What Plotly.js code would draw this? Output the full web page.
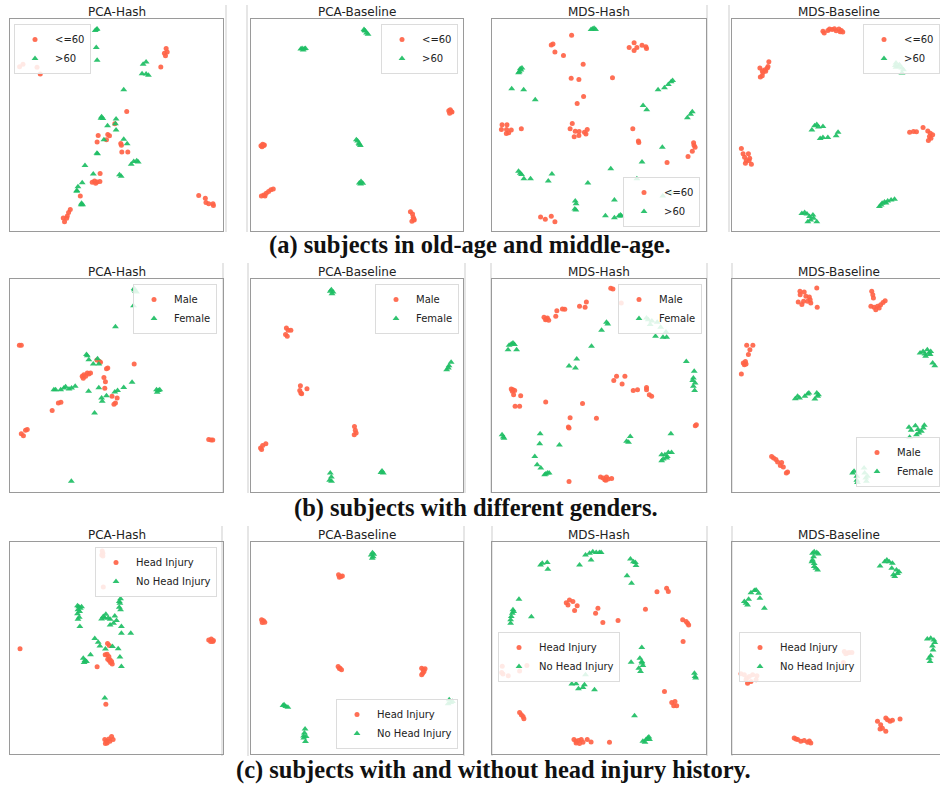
<!DOCTYPE html>
<html><head><meta charset="utf-8">
<script src="https://cdn.plot.ly/plotly-3.0.1.min.js"></script>
<style>html,body{margin:0;padding:0;background:#fff;overflow:hidden}#chart{width:940px;height:788px}</style>
</head><body><div id="chart"></div>
<script>
// ---- labels ----
const panelTitles = ['PCA-Hash','PCA-Baseline','MDS-Hash','MDS-Baseline'];
const labelsA = ['<=60','>60'];
const labelsB = ['Male','Female'];
const labelsC = ['Head Injury','No Head Injury'];
const captions = ['(a) subjects in old-age and middle-age.','(b) subjects with different genders.','(c) subjects with and without head injury history.'];

// ---- (a) PCA-Hash ----
const a1_red_x=[4.5,6.1,12.7,14.2,73.3,73.8,72.5,73.0,70.8,54.8,49.2,41.4,45.9,46.7,45.3,40.9,52.0,52.3,52.5,55.3,42.3,38.6,39.7,40.9,42.2,40.2,33.0,28.3,27.5,26.9,26.6,25.0,25.6,88.6,91.7,92.0,93.3,95.3,95.5];
const a1_red_y=[77.5,78.6,77.2,74.0,86.1,84.4,83.9,82.7,77.3,56.4,50.6,45.0,45.5,44.9,43.0,42.0,41.3,40.5,37.3,37.3,27.1,23.0,23.6,23.1,23.3,22.5,16.5,10.2,8.7,7.1,6.0,6.1,4.4,16.7,15.4,13.5,12.8,12.8,12.0];
const a1_grn_x=[40.6,40.9,40.0,40.5,40.9,62.5,63.9,62.0,63.9,65.0,53.4,43.0,43.6,42.7,49.8,45.8,49.5,49.8,44.1,53.4,55.0,41.1,40.8,56.9,58.1,59.5,60.2,35.2,39.1,51.4,52.2,33.9,31.9,31.4,31.3,33.6,34.1,33.4];
const a1_grn_y=[95.0,95.3,94.6,86.6,80.6,78.7,79.7,74.2,74.0,73.5,66.6,53.9,53.1,53.2,52.8,49.6,50.6,47.7,43.0,43.3,41.1,36.4,36.7,31.5,32.8,33.1,32.6,30.9,26.9,26.5,25.8,22.8,20.9,19.1,18.7,13.1,12.4,12.4];
// ---- (a) PCA-Baseline ----
const a2_red_x=[93.3,94.0,94.8,93.7,94.4,4.7,5.5,6.3,5.2,6.0,4.9,6.0,7.2,8.3,9.4,10.5,6.6,75.2,76.2,76.5,77.0,75.9,76.8];
const a2_red_y=[56.7,57.2,56.1,55.6,56.4,40.2,40.9,40.6,39.7,40.3,16.5,17.0,17.8,18.6,19.4,19.8,16.5,9.1,8.0,6.5,5.2,4.6,5.7];
const a2_grn_x=[23.5,24.1,25.1,25.7,24.6,53.3,53.9,54.5,55.2,53.6,49.7,50.3,50.9,51.6,51.1,51.1,51.9,52.7,51.7];
const a2_grn_y=[85.8,86.1,86.0,86.1,85.4,95.1,94.3,93.4,92.8,94.6,43.0,42.4,41.4,40.3,40.9,22.7,23.3,22.5,22.2];
// ---- (a) MDS-Hash ----
const a3_red_x=[37.2,27.7,28.5,29.4,33.4,42.6,37.0,40.6,56.3,64.1,66.4,66.4,67.7,70.1,71.9,72.2,42.8,39.8,4.7,7.0,4.4,6.8,9.0,7.8,6.7,13.7,37.5,36.5,38.9,40.7,43.2,44.5,38.4,40.6,43.9,65.8,68.4,68.6,81.8,94.2,94.9,93.6,91.6,94.4,22.7,24.9,27.7,29.4];
const a3_red_y=[92.3,87.7,88.2,84.4,82.8,78.7,72.1,71.5,72.3,86.6,88.8,85.2,86.6,87.6,86.9,86.1,63.5,60.2,50.1,50.1,47.9,47.9,47.7,46.3,46.0,48.2,50.7,48.2,47.1,46.9,46.6,47.9,44.4,45.0,45.8,48.2,42.4,41.7,32.3,41.6,39.5,37.6,35.1,40.5,6.6,5.5,6.9,4.4];
const a3_grn_x=[47.0,47.7,48.4,46.3,13.2,14.0,12.8,13.5,12.4,9.2,14.8,20.2,84.4,83.7,82.4,80.6,77.6,70.6,72.3,93.6,92.8,91.3,79.6,70.1,55.5,67.7,12.4,13.2,13.8,14.9,18.0,28.0,26.3,44.8,79.8,83.7,38.9,39.3,38.7,39.2,57.2,53.0,57.2,59.3,60.0,60.5];
const a3_grn_y=[95.3,95.6,95.0,95.0,76.5,76.9,75.1,75.9,74.6,67.1,66.6,61.9,71.0,70.4,69.1,67.6,66.6,59.2,57.2,56.2,55.1,53.4,39.5,32.6,29.4,24.7,28.2,27.2,26.6,24.7,24.6,26.9,23.6,22.7,16.5,18.0,14.2,12.9,10.4,9.9,14.6,7.2,6.3,7.1,7.6,7.1];
// ---- (a) MDS-Baseline ----
const a4_red_x=[42.7,43.3,45.0,45.8,47.0,48.1,48.9,50.2,51.3,52.0,50.8,13.1,14.2,15.5,16.6,17.3,16.9,14.5,13.3,14.2,15.8,83.4,85.2,86.6,89.7,91.9,93.1,94.2,92.7,92.2,93.4,4.4,5.2,5.9,6.7,7.7,8.3,9.1,6.3,8.0];
const a4_red_y=[94.2,93.4,94.6,95.3,95.0,95.4,94.5,95.3,94.6,93.9,94.0,76.9,75.6,76.1,76.9,79.8,77.6,74.8,72.6,73.2,75.3,46.6,46.9,46.8,48.8,47.2,46.1,45.4,44.6,42.7,43.8,38.9,36.4,34.8,33.2,36.4,34.3,31.5,32.0,33.1];
const a4_grn_x=[77.0,76.7,78.1,79.7,80.5,79.8,77.0,78.6,37.5,38.8,39.8,40.6,42.7,41.4,42.7,45.0,48.9,49.8,69.2,70.5,71.6,73.1,74.7,76.3,72.3,70.0,32.8,34.1,35.2,36.4,38.0,36.9,35.6,39.8,38.3];
const a4_grn_y=[79.2,78.1,77.6,76.9,76.1,74.5,77.2,78.4,47.7,49.6,50.2,49.0,49.3,43.6,44.1,44.1,44.9,46.6,11.5,13.1,13.7,14.2,14.6,15.0,13.2,12.3,8.3,8.7,8.0,6.8,7.6,5.2,4.4,4.4,6.0];
// ---- (b) PCA-Hash ----
const b1_red_x=[4.4,5.3,40.8,42.0,42.5,58.3,45.3,45.9,33.9,34.7,36.3,37.0,37.8,34.4,35.5,44.1,44.8,44.5,47.9,50.3,49.5,48.8,22.7,23.9,19.8,5.3,6.3,7.3,8.1,93.3,94.4,95.2];
const b1_red_y=[68.9,68.9,62.0,61.3,60.9,60.1,57.9,58.2,54.3,55.1,55.9,55.4,55.9,53.4,54.3,53.7,51.8,48.7,44.9,44.1,41.8,41.2,41.8,42.1,38.3,27.4,26.4,29.0,29.3,24.6,24.4,24.4];
const b1_grn_x=[58.4,58.9,59.4,58.3,58.0,49.5,35.9,36.3,37.0,41.1,39.1,41.7,20.6,21.4,23.8,25.3,26.1,27.7,28.9,30.6,36.9,41.7,43.0,43.3,45.3,49.2,50.5,53.4,57.3,39.7,68.8,69.7,70.3,69.1,28.8];
const b1_grn_y=[95.0,94.2,93.9,95.5,87.5,77.6,64.5,64.0,62.1,62.6,60.1,60.1,48.0,48.0,48.0,48.8,49.4,48.4,48.8,49.6,47.3,49.0,44.1,42.6,45.2,46.9,47.6,49.1,51.5,37.1,48.0,47.6,48.0,46.8,5.0];
// ---- (b) PCA-Baseline ----
const b2_red_x=[16.7,17.5,18.8,16.3,17.1,23.3,23.0,23.9,26.4,23.5,48.8,49.2,48.7,49.6,4.5,5.5,7.0,5.0];
const b2_red_y=[77.0,75.9,75.9,73.9,73.1,49.9,47.7,46.1,48.5,46.5,30.8,29.0,26.9,27.7,20.7,21.8,22.7,19.9];
const b2_grn_x=[37.9,38.7,37.4,38.2,94.4,93.4,92.3,93.1,37.4,37.9,37.1,38.0,61.8,62.4,61.3];
const b2_grn_y=[95.0,93.9,94.2,93.1,60.9,59.3,57.4,58.2,8.9,7.0,5.5,5.0,9.9,8.9,9.2];
// ---- (b) MDS-Hash ----
const b3_red_x=[55.5,56.5,60.4,40.9,43.5,44.1,32.9,34.0,30.3,29.8,24.3,25.4,26.5,25.9,25.0,58.2,62.1,56.9,60.8,66.0,68.0,72.2,72.2,73.5,74.6,9.0,9.8,10.6,9.5,10.1,13.4,10.8,12.9,25.1,42.3,36.5,48.8,35.7,36.0,95.0,95.5,50.7,51.9,52.7,53.5,54.3,53.2,55.9,36.0];
const b3_red_y=[95.6,95.3,88.7,87.2,86.7,89.2,85.9,85.8,85.1,82.5,82.0,81.2,80.6,81.7,80.9,54.3,54.3,52.3,50.7,47.7,48.0,49.1,48.0,45.7,44.9,48.4,48.0,47.6,47.3,45.7,45.2,40.2,40.2,42.3,41.5,34.9,34.6,30.5,30.0,31.1,31.6,7.0,6.6,5.8,7.0,6.1,5.5,6.3,4.9];
const b3_grn_x=[53.5,54.1,51.2,46.5,72.2,73.0,74.7,77.2,73.9,78.8,81.3,76.4,79.9,81.6,9.8,9.0,8.0,10.5,7.5,11.5,39.6,36.0,39.0,90.8,94.5,94.1,93.8,94.9,94.1,94.7,4.7,5.3,5.6,22.5,22.3,20.0,21.1,22.8,25.1,25.9,26.7,24.6,31.5,64.6,62.9,63.8,83.6,79.3,80.8,82.4,83.9,80.0,79.3,81.6,81.9];
const b3_grn_y=[79.7,78.9,75.9,68.4,81.7,80.9,80.3,79.7,78.6,77.3,75.1,73.1,72.6,72.6,70.0,69.5,68.9,69.2,66.8,66.8,62.4,59.2,58.2,61.3,56.7,53.5,52.4,51.2,49.6,47.7,26.9,25.8,25.2,27.4,22.7,16.7,12.8,11.3,8.5,8.9,8.9,8.1,22.1,26.1,23.8,23.3,27.4,17.5,17.5,18.6,18.6,15.5,14.7,16.0,16.7];
// ---- (b) MDS-Baseline ----
const b4_red_x=[31.9,33.9,32.0,34.7,36.3,31.1,32.8,36.7,35.5,37.0,39.8,40.0,33.6,65.6,66.1,66.4,65.2,66.7,68.3,69.8,70.9,71.9,67.5,69.1,6.9,9.8,8.4,7.7,6.3,5.3,5.8,6.6,4.4,18.6,19.5,20.6,21.4,23.3,24.1,22.7,26.1,25.5];
const b4_red_y=[94.2,93.9,92.6,91.9,91.5,89.2,88.0,90.3,89.5,88.7,95.8,86.7,89.5,94.2,92.6,91.1,87.2,86.7,87.2,87.9,89.0,89.8,85.6,86.4,68.9,68.9,66.8,64.5,61.3,60.6,59.8,60.1,55.4,16.7,16.0,15.2,14.1,13.9,11.7,12.4,9.4,8.9];
const b4_grn_x=[88.3,89.7,90.6,91.7,93.0,90.9,92.5,94.2,95.2,93.3,29.7,30.8,31.7,34.2,35.5,36.1,38.9,39.8,40.6,40.2,83.1,84.1,86.1,87.3,88.9,89.8,90.3,86.6,83.4,87.7,56.6,57.3,58.6,58.6,58.9,62.0,62.3,62.8,63.1,63.6];
const b4_grn_y=[65.3,66.0,64.8,66.8,64.5,63.7,65.3,60.6,59.3,66.0,43.8,44.9,44.1,44.9,46.0,46.5,43.7,46.5,45.7,44.9,30.4,29.0,31.1,29.3,28.5,30.0,31.3,26.9,25.7,27.7,8.9,9.7,7.4,5.5,4.5,11.3,8.9,6.6,5.0,7.4];
// ---- (c) PCA-Hash ----
const c1_red_x=[43.3,43.6,43.1,43.6,43.8,4.7,93.3,94.5,95.2,94.2,95.5,45.8,46.6,44.7,45.6,46.4,45.9,46.6,47.2,48.0,47.0,47.7,40.9,45.0,44.5,45.3,46.4,47.7,48.4,45.6,46.9,44.8];
const c1_red_y=[95.8,94.7,93.9,93.4,78.8,49.6,53.8,54.2,53.1,53.1,53.5,52.1,51.2,46.8,47.1,46.0,44.7,44.1,43.2,42.4,44.4,43.6,41.1,23.5,6.8,6.0,7.1,8.3,6.8,5.2,6.0,4.9];
const c1_grn_x=[31.7,32.3,33.6,33.0,31.9,32.7,31.7,32.5,31.9,32.8,51.9,51.3,51.6,51.3,51.9,45.0,43.8,43.0,44.5,46.1,47.0,49.2,50.0,48.6,47.0,52.3,52.3,56.7,39.8,41.4,42.2,48.1,50.8,44.8,51.6,52.3,37.8,34.4,35.2,35.9,34.8,44.5];
const c1_grn_y=[69.9,69.5,69.5,68.8,68.0,67.2,66.1,64.5,63.6,60.1,73.2,71.9,71.1,69.2,68.0,65.9,64.8,63.7,64.1,64.1,63.6,65.1,63.0,61.7,60.9,60.1,57.0,57.0,54.5,52.7,51.0,50.7,49.6,49.5,45.7,41.3,46.8,45.2,44.1,43.6,43.2,26.4];
// ---- (c) PCA-Baseline ----
const c2_red_x=[41.3,42.4,43.1,41.7,5.0,5.9,6.5,5.3,41.1,42.0,42.7,41.7,80.5,81.3,82.1,81.0,81.6,80.5];
const c2_red_y=[84.5,83.7,84.0,83.4,63.3,62.8,62.2,62.0,41.3,40.5,39.7,40.3,40.5,39.7,40.2,38.1,38.9,37.4];
const c2_grn_x=[57.3,56.7,57.6,57.9,57.2,15.6,16.4,17.4,15.1,25.5,25.2,24.9,25.7,26.0,24.8,93.5,94.2,95.0,93.0];
const c2_grn_y=[94.9,93.9,93.1,94.2,92.3,23.2,22.4,22.1,22.9,11.8,9.9,7.5,5.9,8.2,8.5,25.6,24.3,24.8,23.7];
// ---- (c) MDS-Hash ----
const c3_red_x=[34.7,36.2,37.8,35.5,39.8,38.6,49.5,48.4,51.8,58.9,71.7,77.1,81.6,82.4,89.1,90.7,91.4,91.9,89.3,16.3,12.9,4.8,4.5,5.1,7.6,80.6,84.0,85.5,84.9,86.3,12.9,13.7,14.5,14.9,38.3,39.3,40.4,41.7,42.5,44.5,46.3,40.9,39.3,54.9];
const c3_red_y=[71.4,72.7,71.9,70.3,69.9,67.7,68.8,66.4,62.0,63.0,68.3,76.5,78.2,76.6,63.3,62.5,61.7,60.9,53.1,41.8,39.2,41.4,38.5,37.7,36.9,29.5,24.3,24.8,22.8,22.8,19.6,18.5,17.7,16.6,6.8,6.0,6.4,6.8,5.5,6.8,5.7,4.9,5.2,5.5];
const c3_grn_x=[43.7,45.6,47.1,48.7,50.2,51.0,46.3,40.9,22.7,23.5,25.8,26.1,64.7,66.1,67.0,67.3,63.1,65.2,12.6,9.8,9.5,9.0,8.7,10.1,8.7,18.4,70.0,69.1,65.0,70.0,70.5,68.6,69.4,70.1,94.6,94.9,95.2,43.7,37.3,39.3,40.4,42.5,43.2,47.9,66.6,70.5,72.0,72.8,73.3,73.6,71.5];
const c3_grn_y=[93.9,94.7,95.4,95.1,95.0,95.1,91.5,89.2,89.2,90.0,90.3,87.1,92.0,90.7,90.3,88.9,84.1,80.5,73.0,68.0,66.4,64.8,63.3,67.2,61.7,64.7,50.2,45.2,43.3,43.6,41.8,40.5,38.9,42.9,38.1,36.6,35.8,37.4,33.0,33.1,30.8,31.4,32.7,30.3,18.1,6.0,6.8,7.5,8.0,6.8,5.5];
// ---- (c) MDS-Baseline ----
const c4_red_x=[52.7,54.2,55.0,56.3,53.4,52.3,4.2,5.8,6.9,8.1,9.7,11.7,11.3,7.3,8.9,6.6,68.3,69.8,72.2,73.0,74.2,75.3,78.9,70.6,72.2,69.5,29.2,30.8,32.3,33.9,35.5,37.0,30.0,36.3];
const c4_red_y=[48.4,47.6,47.9,47.9,47.3,43.2,37.8,37.4,35.8,36.6,37.4,36.9,35.0,33.4,34.2,35.0,15.4,13.8,17.0,16.2,15.4,15.9,16.5,12.2,10.7,11.8,7.5,6.8,6.0,6.4,5.5,5.2,7.1,6.1];
const c4_grn_x=[37.8,38.6,39.8,40.5,38.3,37.5,38.6,39.4,38.6,40.2,37.8,69.5,71.7,72.7,73.8,75.3,75.0,77.2,78.4,77.7,76.4,75.8,10.5,11.3,8.9,7.8,5.8,6.6,7.3,12.5,13.1,15.2,91.7,93.3,94.8,95.2,94.1,94.4,93.3,92.5,93.0];
const c4_grn_y=[94.7,95.4,95.1,94.3,93.1,90.7,89.9,87.6,88.4,86.8,91.5,88.7,90.7,91.5,90.7,90.0,87.6,86.8,86.0,85.2,83.7,84.5,77.1,77.4,76.1,73.0,71.9,71.1,70.3,75.8,73.5,68.8,54.2,54.6,53.8,52.6,51.0,49.1,46.3,45.2,43.6];

// ---- panel table built from arrays ----
const panels = [
  [a1_red_x,a1_red_y,a1_grn_x,a1_grn_y,labelsA],[a2_red_x,a2_red_y,a2_grn_x,a2_grn_y,labelsA],
  [a3_red_x,a3_red_y,a3_grn_x,a3_grn_y,labelsA],[a4_red_x,a4_red_y,a4_grn_x,a4_grn_y,labelsA],
  [b1_red_x,b1_red_y,b1_grn_x,b1_grn_y,labelsB],[b2_red_x,b2_red_y,b2_grn_x,b2_grn_y,labelsB],
  [b3_red_x,b3_red_y,b3_grn_x,b3_grn_y,labelsB],[b4_red_x,b4_red_y,b4_grn_x,b4_grn_y,labelsB],
  [c1_red_x,c1_red_y,c1_grn_x,c1_grn_y,labelsC],[c2_red_x,c2_red_y,c2_grn_x,c2_grn_y,labelsC],
  [c3_red_x,c3_red_y,c3_grn_x,c3_grn_y,labelsC],[c4_red_x,c4_red_y,c4_grn_x,c4_grn_y,labelsC]
];

// ---- layout geometry (pixels) ----
const W=940,H=788;
const colPx=[[10,223],[251,463],[492,706],[732,945]];
const rowPx=[[19,231],[279,492],[542,754]];
const titleY=[12,272,535];
const captionPos=[[470,245],[476,508],[493,770]];
// legend anchors: [x px, y px, xanchor, yanchor]
const legPos=[[14,24,'left','top'],[458,24,'right','top'],[700,227,'right','bottom'],[940,24,'right','top'],
  [217,284,'right','top'],[459,284,'right','top'],[702,284,'right','top'],[940,487,'right','bottom'],
  [217,547,'right','top'],[458,749,'right','bottom'],[498,632,'left','top'],[739,632,'left','top']];
const px=x=>x/W, py=y=>1-y/H;

const RED='rgba(255,99,71,0.92)', GRN='rgba(30,190,100,0.92)';
const traces=[], annotations=[], shapes=[];
const layout={width:W,height:H,margin:{l:0,r:0,t:0,b:0,autoexpand:false},paper_bgcolor:'#fff',plot_bgcolor:'#fff',
  showlegend:true,font:{family:'DejaVu Sans, sans-serif',color:'#222'}};

panels.forEach((p,i)=>{
  const row=Math.floor(i/4), col=i%4, n=i===0?'':String(i+1);
  const xa='x'+n, ya='y'+n, lg='legend'+n;
  const fullW=colPx[col][1]-colPx[col][0];
  const visRight=Math.min(colPx[col][1],W);
  const xmax=100*(visRight-colPx[col][0])/fullW;
  layout['xaxis'+n]={domain:[px(colPx[col][0]),px(visRight)],range:[0,xmax],anchor:ya,showgrid:false,zeroline:false,
    showticklabels:false,ticks:'',showline:true,linecolor:'#9a9a9a',linewidth:1,mirror:true,fixedrange:true};
  layout['yaxis'+n]={domain:[py(rowPx[row][1]),py(rowPx[row][0])],range:[0,100],anchor:xa,showgrid:false,zeroline:false,
    showticklabels:false,ticks:'',showline:true,linecolor:'#9a9a9a',linewidth:1,mirror:col<3,fixedrange:true};
  const lp=legPos[i];
  layout[lg]={x:px(lp[0]),y:py(lp[1]),xanchor:lp[2],yanchor:lp[3],bgcolor:'rgba(255,255,255,0.85)',bordercolor:'#dcdcdc',
    borderwidth:1,font:{size:10,family:'DejaVu Sans, sans-serif',color:'#222'},tracegroupgap:0,itemwidth:30};
  traces.push({type:'scatter',mode:'markers',x:p[0],y:p[1],xaxis:xa,yaxis:ya,legend:lg,name:p[4][0],
    marker:{symbol:'circle',size:5,color:RED,line:{width:0}},hoverinfo:'skip'});
  traces.push({type:'scatter',mode:'markers',x:p[2],y:p[3],xaxis:xa,yaxis:ya,legend:lg,name:p[4][1],
    marker:{symbol:'triangle-up',size:6,color:GRN,line:{width:0}},hoverinfo:'skip'});
  annotations.push({xref:'paper',yref:'paper',x:px((colPx[col][0]+colPx[col][1])/2),y:py(titleY[row]),xanchor:'center',yanchor:'middle',
    text:panelTitles[col],showarrow:false,font:{size:12,family:'DejaVu Sans, sans-serif',color:'#222'}});
});
captions.forEach((c,r)=>{
  annotations.push({xref:'paper',yref:'paper',x:px(captionPos[r][0]),y:py(captionPos[r][1]),xanchor:'center',yanchor:'middle',
    text:'<b>'+c+'</b>',showarrow:false,font:{size:24.5,family:'Liberation Serif, DejaVu Serif, serif',color:'#111'}});
});
// thin grey separators between sub-figures
const sepRows=[[5,232,[226,247,707,729]],[263,493,[223,248,465,491,707,732]],[526,756,[222,248,464,492,707,732]]];
sepRows.forEach(s=>s[2].forEach(x=>shapes.push({type:'line',xref:'paper',yref:'paper',x0:px(x),x1:px(x),y0:py(s[0]),y1:py(s[1]),
  line:{color:'#dedede',width:1.5},layer:'below'})));
layout.annotations=annotations; layout.shapes=shapes;
Plotly.newPlot('chart',traces,layout,{staticPlot:true,displayModeBar:false});
</script></body></html>
